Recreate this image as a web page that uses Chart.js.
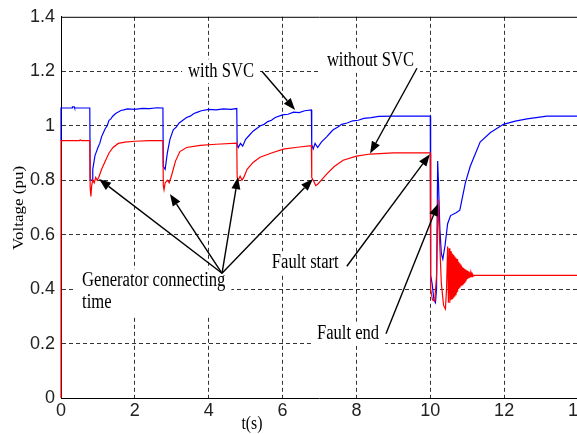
<!DOCTYPE html>
<html>
<head>
<meta charset="utf-8">
<script src="https://cdn.jsdelivr.net/npm/chart.js@4"></script>
<style>
  html, body { margin: 0; padding: 0; background: #fff; overflow: hidden; width: 577px; height: 434px; }
  canvas { display: block; }
</style>
</head>
<body>
<canvas id="grafikV" width="590" height="434"></canvas>
<script>
// tick values
const xTicks = [0, 2, 4, 6, 8, 10, 12, 14];
const yTicks = [0, 0.2, 0.4, 0.6, 0.8, 1, 1.2, 1.4];

// with SVC (blue)
const tBlue = [0, 0, 0.3, 0.31, 0.36, 0.37, 0.78,
  0.79, 0.84, 0.86, 0.92, 0.96, 1.0, 1.05, 1.1, 1.15, 1.2, 1.25, 1.3, 1.35, 1.4, 1.48, 1.55, 1.62, 1.7, 1.8, 2.0, 2.2, 2.4, 2.6, 2.76,
  2.77, 2.82, 2.88, 2.95, 3.04, 3.12, 3.2, 3.3, 3.4, 3.5, 3.6, 3.7, 3.8, 4.0, 4.2, 4.4, 4.6, 4.76,
  4.77, 4.8, 4.86, 4.92, 5.0, 5.1, 5.2, 5.3, 5.4, 5.5, 5.6, 5.7, 5.8, 6.0, 6.15, 6.3, 6.45, 6.6, 6.78,
  6.79, 6.83, 6.88, 6.95, 7.05, 7.2, 7.3, 7.37, 7.5, 7.6, 7.75, 7.9, 8.05, 8.2, 8.4, 8.6, 9.0, 10.0,
  10.01, 10.05, 10.1, 10.14, 10.17, 10.2, 10.22, 10.26, 10.3, 10.34, 10.4, 10.47, 10.55, 10.7, 10.8,
  10.95, 11.08, 11.35, 11.63, 11.98, 12.3, 12.62, 13.16, 14];
const vBlue = [0.945, 1.065, 1.065, 1.069, 1.069, 1.065, 1.065,
  0.80, 0.80, 0.84, 0.89, 0.905, 0.92, 0.935, 0.96, 0.975, 0.99, 1.0, 1.02, 1.025, 1.035, 1.045, 1.05, 1.056, 1.058, 1.062, 1.06, 1.064, 1.063, 1.066, 1.065,
  0.85, 0.84, 0.90, 0.95, 0.985, 0.995, 1.01, 1.02, 1.03, 1.035, 1.045, 1.05, 1.055, 1.06, 1.058, 1.062, 1.06, 1.063,
  0.93, 0.92, 0.935, 0.925, 0.95, 0.965, 0.98, 0.99, 1.0, 1.005, 1.015, 1.02, 1.03, 1.04, 1.042, 1.05, 1.048, 1.055, 1.058,
  0.93, 0.915, 0.935, 0.92, 0.94, 0.96, 0.975, 0.985, 0.995, 1.005, 1.01, 1.018, 1.02, 1.027, 1.03, 1.034, 1.035, 1.035,
  0.45, 0.42, 0.36, 0.35, 0.40, 0.87, 0.80, 0.62, 0.53, 0.51, 0.56, 0.64, 0.67, 0.68, 0.69,
  0.79, 0.85, 0.94, 0.975, 1.005, 1.017, 1.025, 1.035, 1.035];

// without SVC (red)
const tRed = [0, 0, 0.5, 0.52, 0.55, 0.78, 0.79, 0.81, 0.83, 0.86, 0.9, 0.94, 0.98, 1.02, 1.1, 1.2, 1.3, 1.41, 1.55, 1.73, 2.0, 2.4, 2.76,
  2.77, 2.79, 2.82, 2.88, 2.93, 3.0, 3.1, 3.22, 3.4, 3.77, 4.2, 4.76,
  4.77, 4.8, 4.85, 4.9, 4.95, 5.04, 5.2, 5.39, 5.7, 6.02, 6.4, 6.78,
  6.79, 6.83, 6.9, 6.95, 7.05, 7.2, 7.4, 7.64, 8.0, 8.37, 9.0, 10.0,
  10.01, 10.06, 10.12, 10.17, 10.21, 10.24, 10.3, 10.36, 10.41, 10.44,
  10.47, 10.49, 10.51, 10.53, 10.545, 10.56, 10.575, 10.59, 10.605, 10.62, 10.635, 10.65, 10.665, 10.68,
  10.695, 10.71, 10.725, 10.74, 10.755, 10.77, 10.785, 10.8, 10.815, 10.83, 10.845, 10.86, 10.875, 10.89,
  10.905, 10.92, 10.935, 10.95, 10.965, 10.98, 10.995, 11.01, 11.025, 11.04, 11.055, 11.07, 11.085, 11.1,
  11.115, 11.13, 11.145, 11.16, 11.18, 14];
const vRed = [0, 0.945, 0.945, 0.948, 0.945, 0.945, 0.77, 0.74, 0.78, 0.80, 0.79, 0.81, 0.80, 0.81, 0.84, 0.87, 0.90, 0.92, 0.935, 0.94, 0.943, 0.945, 0.945,
  0.78, 0.765, 0.79, 0.80, 0.79, 0.82, 0.87, 0.905, 0.92, 0.928, 0.932, 0.936,
  0.81, 0.80, 0.815, 0.80, 0.81, 0.84, 0.865, 0.884, 0.90, 0.914, 0.921, 0.927,
  0.81, 0.80, 0.78, 0.785, 0.80, 0.823, 0.85, 0.873, 0.888, 0.896, 0.90, 0.90,
  0.40, 0.36, 0.355, 0.45, 0.73, 0.62, 0.42, 0.34, 0.327, 0.40,
  0.556, 0.35, 0.55, 0.35, 0.54, 0.36, 0.535, 0.365, 0.53, 0.37, 0.525, 0.375, 0.52, 0.38,
  0.515, 0.385, 0.51, 0.39, 0.50, 0.40, 0.495, 0.405, 0.49, 0.41, 0.485, 0.415, 0.48, 0.42,
  0.477, 0.425, 0.474, 0.43, 0.471, 0.434, 0.468, 0.437, 0.465, 0.44, 0.462, 0.442, 0.459, 0.444,
  0.456, 0.446, 0.453, 0.448, 0.45, 0.45];

// annotation text (anchor: left edge, middle) and arrows, in data units
const noteText = [
  { lines: ['with SVC'], t: 3.44, v: 1.2 },
  { lines: ['without SVC'], t: 7.2, v: 1.24 },
  { lines: ['Generator connecting', 'time'], t: 0.57, v: 0.429 },
  { lines: ['Fault start'], t: 5.71, v: 0.495 },
  { lines: ['Fault end'], t: 6.93, v: 0.236 }
];
const noteArrows = [
  [5.44, 1.2, 6.34, 1.058],
  [9.64, 1.211, 8.37, 0.898],
  [4.36, 0.458, 1.03, 0.804],
  [4.36, 0.458, 2.95, 0.749],
  [4.36, 0.458, 4.79, 0.811],
  [4.36, 0.458, 6.82, 0.804],
  [7.74, 0.484, 9.99, 0.895],
  [8.80, 0.236, 10.21, 0.713]
];

const toPoints = (ts, vs) => ts.map((t, i) => ({ x: t, y: vs[i] }));

const serif = '"Liberation Serif", "Times New Roman", serif';
const narrow = '"Liberation Sans Narrow", "Arial Narrow", "Liberation Sans", sans-serif';
const squeeze = 0.83;

const notesPlugin = {
  id: 'notes',
  afterDatasetsDraw(chart) {
    const { ctx, chartArea, scales: { x, y } } = chart;
    ctx.save();
    // top frame line
    ctx.strokeStyle = '#000';
    ctx.lineWidth = 1;
    ctx.beginPath();
    ctx.moveTo(chartArea.left, chartArea.top + 0.5);
    ctx.lineTo(chartArea.right, chartArea.top + 0.5);
    ctx.stroke();

    ctx.font = '20px ' + serif;
    ctx.textBaseline = 'middle';
    ctx.textAlign = 'left';
    noteText.forEach(n => {
      const px = x.getPixelForValue(n.t);
      const py = y.getPixelForValue(n.v);
      const w = Math.max(...n.lines.map(s => ctx.measureText(s).width)) * squeeze;
      ctx.fillStyle = '#fff';
      ctx.fillRect(px - 6, py - 12, w + 12, 22 * n.lines.length + 2);
      ctx.fillStyle = '#000';
      n.lines.forEach((s, i) => {
        ctx.save();
        ctx.translate(px, py + i * 22);
        ctx.scale(squeeze, 1);
        ctx.fillText(s, 0, 0);
        ctx.restore();
      });
    });

    noteArrows.forEach(a => {
      const x1 = x.getPixelForValue(a[0]), y1 = y.getPixelForValue(a[1]);
      const x2 = x.getPixelForValue(a[2]), y2 = y.getPixelForValue(a[3]);
      const ang = Math.atan2(y2 - y1, x2 - x1);
      const len = 12, half = 4.5;
      const bx = x2 - len * Math.cos(ang), by = y2 - len * Math.sin(ang);
      ctx.strokeStyle = '#000';
      ctx.lineWidth = 1.4;
      ctx.beginPath();
      ctx.moveTo(x1, y1);
      ctx.lineTo(bx, by);
      ctx.stroke();
      ctx.fillStyle = '#000';
      ctx.beginPath();
      ctx.moveTo(x2, y2);
      ctx.lineTo(bx + half * Math.sin(ang), by - half * Math.cos(ang));
      ctx.lineTo(bx - half * Math.sin(ang), by + half * Math.cos(ang));
      ctx.closePath();
      ctx.fill();
    });

    // axis titles
    ctx.fillStyle = '#000';
    ctx.textAlign = 'center';
    ctx.font = '19px ' + serif;
    ctx.save();
    ctx.translate(252, 424);
    ctx.scale(squeeze, 1);
    ctx.fillText('t(s)', 0, 0);
    ctx.restore();
    ctx.font = '17px ' + serif;
    ctx.translate(19, 208);
    ctx.scale(squeeze, 1);
    ctx.rotate(-Math.PI / 2);
    ctx.fillText('Voltage (pu)', 0, 0);
    ctx.restore();
  }
};

const ctx = document.getElementById('grafikV').getContext('2d');
const grafikV = new Chart(ctx, {
  type: 'line',
  data: {
    datasets: [{
      label: 'without SVC',
      data: toPoints(tRed, vRed),
      borderColor: 'rgb(255, 0, 0)',
      borderWidth: 1.2,
      pointRadius: 0,
      fill: false,
      tension: 0,
      clip: false
    },
    {
      label: 'with SVC',
      data: toPoints(tBlue, vBlue),
      borderColor: 'rgb(0, 0, 255)',
      borderWidth: 1.2,
      pointRadius: 0,
      fill: false,
      tension: 0,
      clip: false
    }]
  },
  options: {
    responsive: false,
    animation: false,
    layout: { padding: { top: 13, right: 12, left: 0, bottom: 0 } },
    plugins: {
      legend: { display: false },
      tooltip: { enabled: false }
    },
    scales: {
      x: {
        type: 'linear',
        min: 0,
        max: 14,
        afterBuildTicks: (scale) => { scale.ticks = xTicks.map(v => ({ value: v })); },
        afterFit: (scale) => { scale.height = 36; },
        ticks: {
          color: '#222',
          font: { family: narrow, size: 18 },
          padding: 2,
          maxRotation: 0,
          callback: (v) => String(v)
        },
        grid: {
          drawTicks: false,
          lineWidth: 1,
          color: (c) => (c.tick && c.tick.value === 0) ? 'rgba(0,0,0,0)' : '#333'
        },
        border: { display: true, color: '#000', width: 1, dash: [4, 3] }
      },
      y: {
        min: 0,
        max: 1.4,
        afterBuildTicks: (scale) => { scale.ticks = yTicks.map(v => ({ value: v })); },
        afterFit: (scale) => { scale.width = 61; },
        ticks: {
          color: '#222',
          font: { family: narrow, size: 18 },
          padding: 6,
          callback: (v) => String(+v.toFixed(1))
        },
        grid: {
          drawTicks: false,
          lineWidth: 1,
          color: (c) => (c.tick && (c.tick.value === 0 || c.tick.value === 1.4)) ? 'rgba(0,0,0,0)' : '#333'
        },
        border: { display: true, color: '#000', width: 1, dash: [4, 3] }
      }
    }
  },
  plugins: [notesPlugin]
});
</script>
</body>
</html>
